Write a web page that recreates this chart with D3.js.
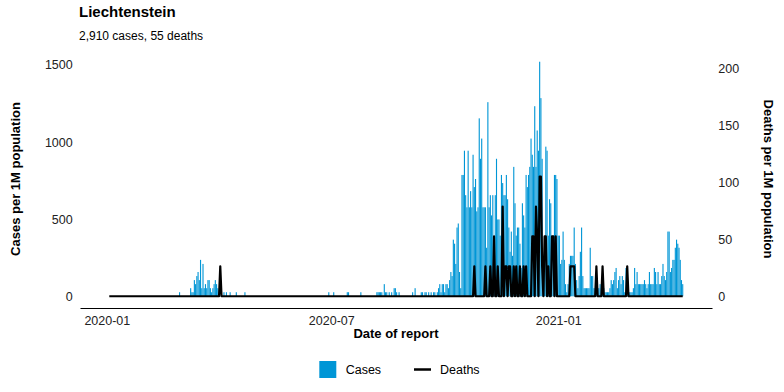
<!DOCTYPE html>
<html><head><meta charset="utf-8">
<script src="https://cdn.jsdelivr.net/npm/d3@7"></script>
<style>
body{margin:0;background:#fff;}
svg text{font-family:"Liberation Sans",Arial,Helvetica,sans-serif;}
</style>
</head><body>
<svg id="chart" width="784" height="392"></svg>
<script>
// ---------------- data ----------------
const chartTitle = "Liechtenstein";
const chartSubtitle = "2,910 cases, 55 deaths";
const startDate = "2020-01-03";          // first reported day
const population = 38137;                 // used for "per 1M population"
// daily new cases (counts), one value per day from startDate
const dailyCases = [
0,0,0,0,0,0,0,0,0,0,0,0,0,0,0,0,0,0,0,0,
0,0,0,0,0,0,0,0,0,0,0,0,0,0,0,0,0,0,0,0,
0,0,0,0,0,0,0,0,0,0,0,0,0,0,0,0,0,1,0,0,
0,0,0,0,0,0,2,1,1,4,3,5,6,4,9,2,8,2,3,2,
4,4,2,1,2,3,4,3,2,1,0,0,0,1,0,1,0,0,1,0,
0,0,0,1,0,0,0,0,0,0,1,0,0,0,0,0,0,0,0,0,
0,0,0,0,0,0,0,0,0,0,0,0,0,0,0,0,0,0,0,0,
0,0,0,0,0,0,0,0,0,0,0,0,0,0,0,0,0,0,0,0,
0,0,0,0,0,0,0,0,0,0,0,0,0,0,0,0,0,0,1,0,
0,0,1,0,0,0,0,0,0,0,0,0,0,1,1,0,0,0,0,0,
0,0,0,0,1,0,0,0,0,0,0,0,0,0,0,0,0,1,1,1,
1,1,0,3,1,1,0,1,0,1,0,2,2,1,0,1,0,0,0,0,
0,0,0,0,0,0,1,0,2,0,0,0,0,1,1,0,1,1,0,1,
0,1,0,1,1,0,1,2,3,1,3,3,1,3,3,2,4,6,5,14,
13,8,17,18,6,2,30,30,36,25,22,36,22,26,22,35,27,29,21,22,
44,34,39,22,22,22,12,48,22,25,20,25,14,25,34,19,19,15,30,28,
25,25,30,24,17,11,16,10,32,23,15,17,17,13,7,23,20,17,30,27,
30,32,39,35,32,47,32,41,36,58,49,34,7,7,37,36,15,24,23,15,
15,30,30,29,15,15,8,9,16,9,3,1,3,8,10,10,10,17,8,4,
2,5,11,17,5,2,2,2,2,2,12,5,5,2,2,3,2,2,3,2,
2,2,1,1,1,1,2,4,3,4,6,7,2,4,5,3,5,4,1,7,
2,1,1,1,1,2,7,3,6,3,3,3,3,3,4,3,2,3,6,3,
3,3,7,6,3,6,3,3,5,8,5,4,6,16,16,6,7,9,9,12,
14,13,12,9,4,3
];
// daily new deaths (counts), same days
const dailyDeaths = [
0,0,0,0,0,0,0,0,0,0,0,0,0,0,0,0,0,0,0,0,
0,0,0,0,0,0,0,0,0,0,0,0,0,0,0,0,0,0,0,0,
0,0,0,0,0,0,0,0,0,0,0,0,0,0,0,0,0,0,0,0,
0,0,0,0,0,0,0,0,0,0,0,0,0,0,0,0,0,0,0,0,
0,0,0,0,0,0,0,0,0,0,1,0,0,0,0,0,0,0,0,0,
0,0,0,0,0,0,0,0,0,0,0,0,0,0,0,0,0,0,0,0,
0,0,0,0,0,0,0,0,0,0,0,0,0,0,0,0,0,0,0,0,
0,0,0,0,0,0,0,0,0,0,0,0,0,0,0,0,0,0,0,0,
0,0,0,0,0,0,0,0,0,0,0,0,0,0,0,0,0,0,0,0,
0,0,0,0,0,0,0,0,0,0,0,0,0,0,0,0,0,0,0,0,
0,0,0,0,0,0,0,0,0,0,0,0,0,0,0,0,0,0,0,0,
0,0,0,0,0,0,0,0,0,0,0,0,0,0,0,0,0,0,0,0,
0,0,0,0,0,0,0,0,0,0,0,0,0,0,0,0,0,0,0,0,
0,0,0,0,0,0,0,0,0,0,0,0,0,0,0,0,0,0,0,0,
0,0,0,0,0,0,0,0,0,0,0,0,0,0,0,0,1,0,0,0,
0,0,0,0,0,1,0,0,0,1,0,0,2,0,0,1,0,0,0,3,
0,1,1,0,1,1,0,0,1,0,1,0,0,1,0,0,1,0,1,0,
0,0,0,2,2,0,3,2,0,4,4,1,0,2,2,0,1,0,0,2,
2,0,2,0,0,0,0,0,0,0,0,0,0,0,1,1,1,1,0,0,
0,0,0,0,0,0,0,0,0,0,0,0,0,0,0,1,0,0,0,0,
1,0,0,0,0,0,0,0,0,0,0,0,0,0,0,0,0,0,0,0,
1,0,0,0,0,0,0,0,0,0,0,0,0,0,0,0,0,0,0,0,
0,0,0,0,0,0,0,0,0,0,0,0,0,0,0,0,0,0,0,0,
0,0,0,0,0,0
];
const xTickDates = ["2020-01-01","2020-07-01","2021-01-01"];
const leftTicks = [0,500,1000,1500];
const rightTicks = [0,50,100,150,200];
const legendLabels = ["Cases","Deaths"];
const secondaryRatio = 7.4;   // cases-axis units per deaths-axis unit

// ---------------- layout ----------------
const caseColor = "#0096d6";
const panel = {left:80, right:712, top:50, bottom:308};
const svg = d3.select("#chart");
const parse = d3.utcParse("%Y-%m-%d");
const DAY = 864e5;
const t0 = parse(startDate);
const rows = dailyCases.map((c,i)=>({
  date: new Date(+t0 + i*DAY),
  cases: c/population*1e6,
  deaths: (dailyDeaths[i]||0)/population*1e6
}));
const n = rows.length;
const pad = 0.05*((n-1)+0.9) + 0.45;
const x = d3.scaleUtc()
  .domain([new Date(+t0 - pad*DAY), new Date(+rows[n-1].date + pad*DAY)])
  .range([panel.left, panel.right]);
const maxC = d3.max(rows, d=>d.cases);
const yC = d3.scaleLinear().domain([-0.05*maxC, maxC*1.05]).range([panel.bottom, panel.top]);
const yD = d3.scaleLinear().domain(yC.domain().map(v=>v/secondaryRatio)).range([panel.bottom, panel.top]);
const pxDay = x(new Date(+t0+DAY)) - x(t0);
const barW = 0.9*pxDay;

// bars
svg.append("g").selectAll("rect").data(rows.filter(d=>d.cases>0)).join("rect")
  .attr("x", d=>x(d.date)-barW/2)
  .attr("width", barW)
  .attr("y", d=>yC(d.cases))
  .attr("height", d=>yC(0)-yC(d.cases))
  .attr("fill", caseColor);

// deaths line
svg.append("path").datum(rows)
  .attr("fill","none").attr("stroke","#000").attr("stroke-width",2.2)
  .attr("stroke-linejoin","round")
  .attr("d", d3.line().x(d=>x(d.date)).y(d=>yD(d.deaths)));

// axes
const tickCol = "#222";
const numFmt = d3.format("d");
const xAxis = svg.append("g").attr("transform",`translate(0,${panel.bottom})`)
  .call(d3.axisBottom(x).tickValues(xTickDates.map(parse)).tickFormat(d3.utcFormat("%Y-%m"))
        .tickSize(0).tickSizeOuter(0).tickPadding(8.4));
xAxis.select(".domain").attr("stroke","#000").attr("stroke-width",1.1);
xAxis.selectAll("text").attr("font-size",12.5).attr("fill",tickCol).attr("font-family",null);

const lAxis = svg.append("g").attr("transform",`translate(${panel.left},0)`)
  .call(d3.axisLeft(yC).tickValues(leftTicks).tickFormat(numFmt).tickSize(0).tickPadding(7.3));
lAxis.select(".domain").remove();
lAxis.selectAll("text").attr("font-size",12.5).attr("fill",tickCol).attr("font-family",null);

const rAxis = svg.append("g").attr("transform",`translate(${panel.right},0)`)
  .call(d3.axisRight(yD).tickValues(rightTicks).tickFormat(numFmt).tickSize(0).tickPadding(6.3));
rAxis.select(".domain").remove();
rAxis.selectAll("text").attr("font-size",12.5).attr("fill",tickCol).attr("font-family",null);

// titles
svg.append("text").attr("x",79).attr("y",17).attr("font-size",15).attr("font-weight","bold").text(chartTitle);
svg.append("text").attr("x",79).attr("y",40).attr("font-size",12).text(chartSubtitle);
const midY = (panel.top+panel.bottom)/2;
svg.append("text").attr("transform",`translate(20,${midY}) rotate(-90)`).attr("text-anchor","middle")
  .attr("font-size",13).attr("font-weight","bold").text("Cases per 1M population");
svg.append("text").attr("transform",`translate(763.5,${midY}) rotate(90)`).attr("text-anchor","middle")
  .attr("font-size",13).attr("font-weight","bold").text("Deaths per 1M population");
svg.append("text").attr("x",(panel.left+panel.right)/2).attr("y",338).attr("text-anchor","middle")
  .attr("font-size",13).attr("font-weight","bold").text("Date of report");

// legend
const lg = svg.append("g");
lg.append("rect").attr("x",319.3).attr("y",361).attr("width",17).attr("height",17).attr("fill",caseColor);
lg.append("text").attr("x",345.7).attr("y",374).attr("font-size",12.5).text(legendLabels[0]);
lg.append("line").attr("x1",414).attr("x2",431).attr("y1",369.5).attr("y2",369.5).attr("stroke","#000").attr("stroke-width",2.5);
lg.append("text").attr("x",440).attr("y",374).attr("font-size",12.5).text(legendLabels[1]);
</script>
</body></html>
